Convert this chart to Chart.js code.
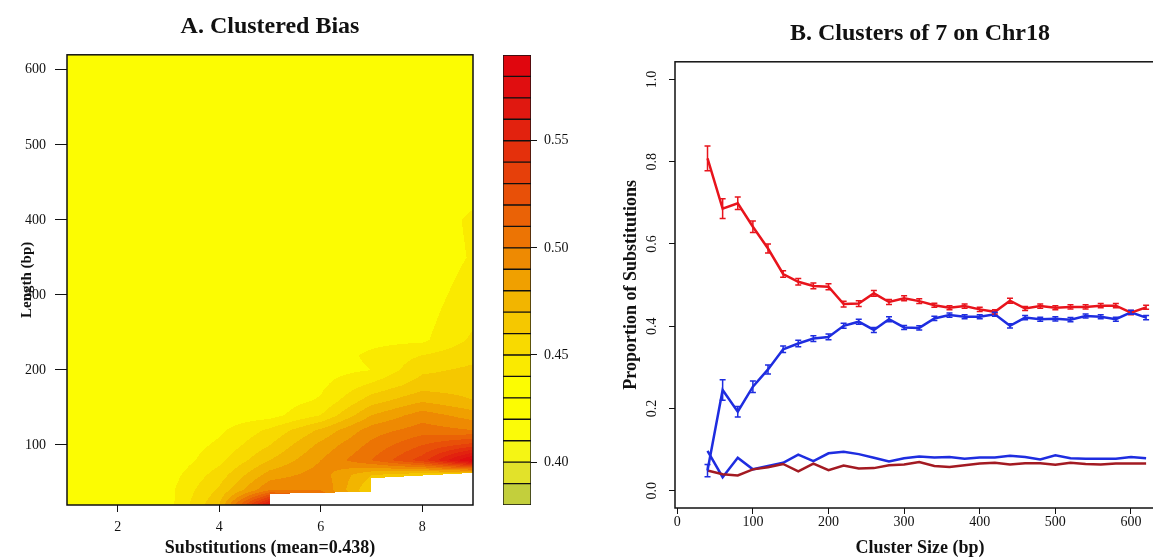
<!DOCTYPE html>
<html>
<head>
<meta charset="utf-8">
<title>Clustered Bias</title>
<script src="https://cdn.jsdelivr.net/npm/chart.js"></script>
<style>
  html, body { margin: 0; padding: 0; background: #fff; }
  body { width: 1153px; height: 559px; overflow: hidden; position: relative; }
  canvas { position: absolute; top: 0; }
  #contour { left: 0; }
  #keyBar { left: 490px; }
  #lines { left: 600px; }
</style>
</head>
<body>
<canvas id="contour" width="490" height="559"></canvas>
<canvas id="keyBar" width="110" height="559"></canvas>
<canvas id="lines" width="600" height="559"></canvas>
<script>
// ---- Panel A: bias by substitutions (columns) and cluster length (rows)
const subsGrid = [1, 2, 3, 4, 5, 6, 7, 8, 9];
const lengthGrid = [20, 40, 60, 80, 100, 120, 140, 160, 180, 200, 220, 240, 260, 300, 350, 400, 450, 500, 620];
const biasGrid = [
  [0.430, 0.430, 0.436, 0.470, 0.570, 0.520, 0.470, 0.460, 0.460],
  [0.430, 0.430, 0.437, 0.462, 0.500, 0.500, 0.460, 0.460, 0.460],
  [0.430, 0.430, 0.435, 0.455, 0.485, 0.495, 0.470, 0.460, 0.450],
  [0.430, 0.430, 0.432, 0.447, 0.470, 0.490, 0.510, 0.535, 0.585],
  [0.430, 0.430, 0.432, 0.442, 0.460, 0.483, 0.503, 0.520, 0.535],
  [0.430, 0.430, 0.431, 0.438, 0.452, 0.472, 0.495, 0.505, 0.500],
  [0.430, 0.430, 0.430, 0.434, 0.436, 0.450, 0.480, 0.495, 0.485],
  [0.430, 0.430, 0.430, 0.432, 0.434, 0.441, 0.465, 0.478, 0.470],
  [0.430, 0.430, 0.430, 0.431, 0.433, 0.438, 0.452, 0.465, 0.465],
  [0.430, 0.430, 0.430, 0.430, 0.432, 0.436, 0.440, 0.458, 0.462],
  [0.430, 0.430, 0.430, 0.430, 0.431, 0.434, 0.442, 0.450, 0.457],
  [0.430, 0.430, 0.430, 0.430, 0.431, 0.433, 0.437, 0.438, 0.452],
  [0.430, 0.430, 0.430, 0.430, 0.430, 0.432, 0.435, 0.437, 0.449],
  [0.430, 0.430, 0.430, 0.430, 0.430, 0.431, 0.433, 0.435, 0.445],
  [0.430, 0.430, 0.430, 0.430, 0.430, 0.430, 0.432, 0.433, 0.441],
  [0.430, 0.430, 0.430, 0.430, 0.430, 0.430, 0.431, 0.433, 0.442],
  [0.430, 0.430, 0.430, 0.430, 0.430, 0.430, 0.430, 0.432, 0.435],
  [0.430, 0.430, 0.430, 0.430, 0.430, 0.430, 0.430, 0.431, 0.432],
  [0.430, 0.430, 0.430, 0.430, 0.430, 0.430, 0.430, 0.430, 0.430]
];
// no clusters below these lengths (left blank)
const gapSubs = [5, 7, 7, 9];
const gapLens = [35, 38, 56, 63];

const levelBreaks = [0.38, 0.39, 0.40, 0.41, 0.42, 0.43, 0.44, 0.45, 0.46, 0.47, 0.48,
  0.49, 0.50, 0.51, 0.52, 0.53, 0.54, 0.55, 0.56, 0.57, 0.58, 0.59];
const levelColors = ['#c3cf3c', '#e2e22a', '#f5f514', '#fbfb08', '#fcfc02', '#fcfc02', '#faea00',
  '#f8da00', '#f5c800', '#f2b500', '#f0a000', '#ee8a02', '#ec7404', '#ea6206', '#e85008',
  '#e6400a', '#e4300c', '#e2220e', '#e01810', '#e00e10', '#e0060e'];
const keyTicks = [0.40, 0.45, 0.50, 0.55];
const subsTicks = [2, 4, 6, 8];
const lengthTicks = [100, 200, 300, 400, 500, 600];

// ---- Panel B: clusters of 7 on Chr18
const clusterSizes = [40, 60, 80, 100, 120, 140, 160, 180, 200, 220, 240, 260, 280, 300, 320,
  340, 360, 380, 400, 420, 440, 460, 480, 500, 520, 540, 560, 580, 600, 620];
const redShare = [0.808, 0.686, 0.699, 0.642, 0.589, 0.527, 0.508, 0.498, 0.496, 0.454, 0.455,
  0.480, 0.459, 0.468, 0.461, 0.451, 0.445, 0.449, 0.441, 0.435, 0.462, 0.443, 0.449, 0.445,
  0.447, 0.447, 0.450, 0.450, 0.433, 0.446];
const redErr = [0.030, 0.024, 0.015, 0.014, 0.011, 0.008, 0.008, 0.007, 0.007, 0.007, 0.007,
  0.007, 0.006, 0.006, 0.006, 0.005, 0.005, 0.005, 0.005, 0.005, 0.006, 0.005, 0.005, 0.005,
  0.005, 0.005, 0.005, 0.005, 0.005, 0.005];
const blueShare = [0.049, 0.245, 0.192, 0.253, 0.295, 0.344, 0.358, 0.370, 0.374, 0.401, 0.411,
  0.391, 0.417, 0.397, 0.396, 0.419, 0.427, 0.423, 0.423, 0.429, 0.401, 0.421, 0.417, 0.418,
  0.416, 0.425, 0.423, 0.417, 0.434, 0.421];
const blueErr = [0.015, 0.025, 0.013, 0.014, 0.011, 0.008, 0.008, 0.007, 0.007, 0.006, 0.006,
  0.006, 0.006, 0.005, 0.005, 0.005, 0.005, 0.005, 0.005, 0.005, 0.005, 0.005, 0.005, 0.005,
  0.005, 0.005, 0.005, 0.005, 0.005, 0.005];
const blueLow = [0.097, 0.033, 0.080, 0.052, 0.060, 0.068, 0.088, 0.072, 0.091, 0.095, 0.089,
  0.080, 0.071, 0.079, 0.083, 0.081, 0.082, 0.078, 0.081, 0.081, 0.085, 0.082, 0.076, 0.086,
  0.079, 0.078, 0.078, 0.078, 0.082, 0.079];
const redLow = [0.049, 0.040, 0.037, 0.052, 0.057, 0.065, 0.047, 0.066, 0.050, 0.061, 0.054,
  0.055, 0.062, 0.064, 0.070, 0.060, 0.058, 0.062, 0.066, 0.068, 0.064, 0.067, 0.067, 0.063,
  0.068, 0.065, 0.064, 0.066, 0.066, 0.066];
const sizeTicks = [0, 100, 200, 300, 400, 500, 600];
const shareTicks = [0, 0.2, 0.4, 0.6, 0.8, 1.0];

const SERIF = '"Liberation Serif", "Times New Roman", serif';
Chart.defaults.font.family = SERIF;
Chart.defaults.color = '#111';
Chart.defaults.animation = false;

const setTicks = list => scale => { scale.ticks = list.map(v => ({ value: v })); };
const tickGrid = len => ({ drawOnChartArea: false, drawTicks: true, tickLength: len, color: '#111', lineWidth: 1 });

function bracket(arr, v) {
  let i = 0;
  while (i < arr.length - 2 && v > arr[i + 1]) i++;
  const t = Math.min(1, Math.max(0, (v - arr[i]) / (arr[i + 1] - arr[i])));
  return [i, t];
}

function biasAt(sub, len) {
  const [i, tx] = bracket(subsGrid, sub);
  const [j, ty] = bracket(lengthGrid, len);
  const r0 = biasGrid[j], r1 = biasGrid[j + 1];
  const a = r0[i] + (r0[i + 1] - r0[i]) * tx;
  const b = r1[i] + (r1[i + 1] - r1[i]) * tx;
  return a + (b - a) * ty;
}

function gapTop(sub) {
  if (sub < gapSubs[0]) return -Infinity;
  if (sub < gapSubs[2]) {
    return gapLens[0] + (gapLens[1] - gapLens[0]) * (sub - gapSubs[0]) / (gapSubs[1] - gapSubs[0]);
  }
  return gapLens[2] + (gapLens[3] - gapLens[2]) * (sub - gapSubs[2]) / (gapSubs[3] - gapSubs[2]);
}

const levelRGB = levelColors.map(h => [1, 3, 5].map(p => parseInt(h.slice(p, p + 2), 16)));
function levelOf(v) {
  let k = 0;
  while (k < levelColors.length - 1 && v >= levelBreaks[k + 1]) k++;
  return k;
}

// fills the plot area level by level, every pixel mapped back through the scales
const contourFill = {
  id: 'contourFill',
  beforeDatasetsDraw(chart) {
    const { ctx, chartArea: a, scales: { x, y } } = chart;
    const w = Math.round(a.right - a.left), h = Math.round(a.bottom - a.top);
    const off = document.createElement('canvas');
    off.width = w; off.height = h;
    const octx = off.getContext('2d');
    const img = octx.createImageData(w, h);
    for (let j = 0; j < h; j++) {
      const len = y.getValueForPixel(a.top + j + 0.5);
      for (let i = 0; i < w; i++) {
        const sub = x.getValueForPixel(a.left + i + 0.5);
        if (len < gapTop(sub)) continue;
        const c = levelRGB[levelOf(biasAt(sub, len))];
        const p = (j * w + i) * 4;
        img.data[p] = c[0]; img.data[p + 1] = c[1]; img.data[p + 2] = c[2]; img.data[p + 3] = 255;
      }
    }
    octx.putImageData(img, 0, 0);
    ctx.save();
    ctx.imageSmoothingEnabled = false;
    ctx.drawImage(off, a.left, a.top, a.right - a.left, a.bottom - a.top);
    ctx.restore();
  }
};

const frame = {
  id: 'frame',
  afterDraw(chart) {
    const { ctx, chartArea: a } = chart;
    ctx.save();
    ctx.strokeStyle = '#111';
    ctx.lineWidth = 1.5;
    ctx.strokeRect(a.left, a.top, a.right - a.left, a.bottom - a.top);
    ctx.restore();
  }
};

const errorBars = {
  id: 'errorBars',
  afterDatasetsDraw(chart) {
    const { ctx } = chart;
    const yScale = chart.scales.y;
    ctx.save();
    chart.data.datasets.forEach((ds, i) => {
      if (!ds.errors) return;
      const meta = chart.getDatasetMeta(i);
      ctx.strokeStyle = ds.borderColor;
      ctx.lineWidth = 1.5;
      meta.data.forEach((pt, k) => {
        const v = ds.data[k].y, e = ds.errors[k];
        const top = yScale.getPixelForValue(v + e), bot = yScale.getPixelForValue(v - e);
        ctx.beginPath();
        ctx.moveTo(pt.x, top); ctx.lineTo(pt.x, bot);
        ctx.moveTo(pt.x - 3, top); ctx.lineTo(pt.x + 3, top);
        ctx.moveTo(pt.x - 3, bot); ctx.lineTo(pt.x + 3, bot);
        ctx.stroke();
      });
    });
    ctx.restore();
  }
};

// y tick labels read bottom-to-top, as in the original
const sideLabels = {
  id: 'sideLabels',
  afterDraw(chart) {
    const { ctx } = chart;
    const s = chart.scales.y;
    ctx.save();
    ctx.font = '14px ' + SERIF;
    ctx.fillStyle = '#111';
    ctx.textAlign = 'center';
    ctx.textBaseline = 'middle';
    s.ticks.forEach(t => {
      ctx.save();
      ctx.translate(s.right - 23, s.getPixelForValue(t.value));
      ctx.rotate(-Math.PI / 2);
      ctx.fillText(t.value.toFixed(1), 0, 0);
      ctx.restore();
    });
    ctx.restore();
  }
};

new Chart(document.getElementById('contour'), {
  type: 'scatter',
  data: { datasets: [] },
  options: {
    responsive: false,
    layout: { padding: { right: 17 } },
    plugins: {
      legend: { display: false },
      tooltip: { enabled: false },
      title: {
        display: true, text: 'A. Clustered Bias', fullSize: false, color: '#111',
        font: { size: 24, weight: 'bold' }, padding: { top: 12, bottom: 14 }
      }
    },
    scales: {
      x: {
        type: 'linear', min: 1, max: 9,
        afterBuildTicks: setTicks(subsTicks),
        afterFit: s => { s.height = 54; },
        grid: tickGrid(7), border: { display: false },
        ticks: { font: { size: 14 }, padding: 7, maxRotation: 0 },
        title: { display: true, text: 'Substitutions (mean=0.438)', font: { size: 18, weight: 'bold' }, padding: { top: 0, bottom: 0 } }
      },
      y: {
        type: 'linear', min: 20, max: 620,
        afterBuildTicks: setTicks(lengthTicks),
        afterFit: s => { s.width = 67; },
        grid: tickGrid(12), border: { display: false },
        ticks: { font: { size: 14 }, padding: 9 },
        title: { display: true, text: 'Length (bp)', font: { size: 15, weight: 'bold' }, padding: { top: 18, bottom: 0 } }
      }
    }
  },
  plugins: [contourFill, frame]
});

new Chart(document.getElementById('keyBar'), {
  type: 'bar',
  data: {
    labels: [''],
    datasets: levelColors.map((c, k) => ({
      data: [[levelBreaks[k], levelBreaks[k + 1]]],
      backgroundColor: c, borderColor: '#111', borderWidth: 1, borderSkipped: false,
      grouped: false, barPercentage: 1, categoryPercentage: 1
    }))
  },
  options: {
    responsive: false,
    layout: { padding: { left: 13, top: 55, bottom: 54 } },
    plugins: { legend: { display: false }, tooltip: { enabled: false } },
    scales: {
      x: { display: false },
      y: {
        position: 'right', min: 0.38, max: 0.59,
        afterBuildTicks: setTicks(keyTicks),
        afterFit: s => { s.width = 69; },
        grid: tickGrid(6), border: { display: false },
        ticks: { font: { size: 14 }, padding: 7, callback: v => Number(v).toFixed(2) }
      }
    }
  }
});

const RED = '#e8141c', BLUE = '#1e2de0', DARK_RED = '#a31a22';
const points = vals => clusterSizes.map((s, k) => ({ x: s, y: vals[k] }));

new Chart(document.getElementById('lines'), {
  type: 'line',
  data: {
    datasets: [
      { data: points(redShare), errors: redErr, borderColor: RED },
      { data: points(blueShare), errors: blueErr, borderColor: BLUE },
      { data: points(redLow), borderColor: DARK_RED },
      { data: points(blueLow), borderColor: BLUE }
    ]
  },
  options: {
    responsive: false,
    layout: { padding: { right: 35 } },
    elements: { point: { radius: 0 }, line: { tension: 0, borderWidth: 2.5, fill: false } },
    plugins: {
      legend: { display: false },
      tooltip: { enabled: false },
      title: {
        display: true, text: 'B. Clusters of 7 on Chr18', fullSize: false, color: '#111',
        font: { size: 24, weight: 'bold' }, padding: { top: 19, bottom: 14 }
      }
    },
    scales: {
      x: {
        type: 'linear', min: -3, max: 645,
        afterBuildTicks: setTicks(sizeTicks),
        afterFit: s => { s.height = 51; },
        grid: tickGrid(6), border: { display: false },
        ticks: { font: { size: 14 }, padding: 0, maxRotation: 0 },
        title: { display: true, text: 'Cluster Size (bp)', font: { size: 18, weight: 'bold' }, padding: { top: 0, bottom: 0 } }
      },
      y: {
        type: 'linear', min: -0.042, max: 1.043,
        afterBuildTicks: setTicks(shareTicks),
        afterFit: s => { s.width = 75; },
        grid: tickGrid(6), border: { display: false },
        ticks: { display: false },
        title: { display: true, text: 'Proportion of Substitutions', font: { size: 18, weight: 'bold' }, padding: { top: 21, bottom: 0 } }
      }
    }
  },
  plugins: [errorBars, sideLabels, frame]
});
</script>
</body>
</html>
